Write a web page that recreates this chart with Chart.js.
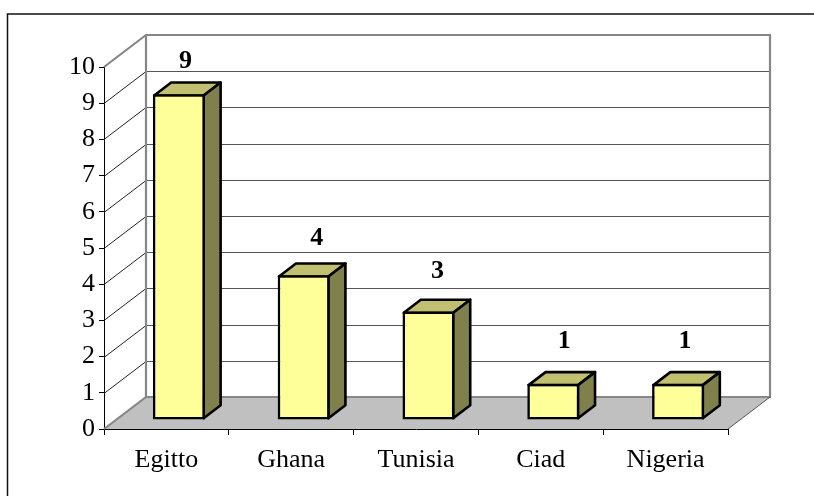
<!DOCTYPE html>
<html>
<head>
<meta charset="utf-8">
<style>
html,body{margin:0;padding:0;background:#fff;overflow:hidden}
#wrap{position:absolute;left:0;top:0;width:814px;height:496px}
</style>
<script src="https://cdn.jsdelivr.net/npm/chart.js@4"></script>
</head>
<body>
<div id="wrap"><canvas id="c" width="814" height="496"></canvas></div>
<script>
const categories = ["Egitto", "Ghana", "Tunisia", "Ciad", "Nigeria"];
const seriesValues = [9, 4, 3, 1, 1];
const axisMin = 0, axisMax = 10, axisStep = 1;

const FONT = '"Liberation Serif","Times New Roman",serif';
const wallDX = 42, wallDY = -32;   // depth of the floor / side wall
const barShiftX = 12.5, barShiftY = -9; // bars stand inside the floor
const barDX = 17, barDY = -13;     // depth of every bar
const barLine = 2.6;
const labelNudge = [[6.5, 26], [13, 30], [9, 33], [11, 35.5], [7, 35.5]]; // label offset from the bar's front-top, as placed by the original

const scene3d = {
  id: 'scene3d',
  beforeDatasetsDraw(chart) {
    const {ctx, scales: {x, y}} = chart;
    const L = x.left, R = x.right, B = y.getPixelForValue(axisMin), T = y.getPixelForValue(axisMax);
    ctx.save();
    // outer frame
    ctx.strokeStyle = '#111'; ctx.lineWidth = 1.5;
    ctx.beginPath(); ctx.moveTo(7.5, 496); ctx.lineTo(7.5, 14); ctx.lineTo(814, 14); ctx.stroke();
    // floor
    ctx.fillStyle = '#c0c0c0';
    ctx.beginPath(); ctx.moveTo(L, B); ctx.lineTo(L + wallDX, B + wallDY); ctx.lineTo(R + wallDX, B + wallDY); ctx.lineTo(R, B); ctx.closePath(); ctx.fill();
    // gridlines
    ctx.lineWidth = 1;
    for (let v = axisMin + axisStep; v < axisMax; v += axisStep) {
      const p = Math.round(y.getPixelForValue(v)) + 0.5;
      ctx.strokeStyle = '#222';
      ctx.beginPath(); ctx.moveTo(L, p); ctx.lineTo(L + wallDX, p + wallDY); ctx.stroke();
      ctx.strokeStyle = '#555';
      ctx.beginPath(); ctx.moveTo(L + wallDX, p + wallDY); ctx.lineTo(R + wallDX, p + wallDY); ctx.stroke();
    }
    // wall frame
    ctx.strokeStyle = '#868686'; ctx.lineWidth = 2.2;
    ctx.beginPath();
    ctx.moveTo(L, T); ctx.lineTo(L + wallDX, T + wallDY); ctx.lineTo(R + wallDX, T + wallDY);
    ctx.lineTo(R + wallDX, B + wallDY); ctx.lineTo(L + wallDX, B + wallDY); ctx.lineTo(L, B);
    ctx.moveTo(L + wallDX, T + wallDY); ctx.lineTo(L + wallDX, B + wallDY);
    ctx.stroke();
    ctx.lineWidth = 1; ctx.strokeStyle = '#555';
    ctx.beginPath(); ctx.moveTo(R, B); ctx.lineTo(R + wallDX, B + wallDY); ctx.stroke();
    ctx.restore();
  },
  beforeDatasetDraw(chart, args) {
    const {ctx} = chart;
    ctx.save();
    ctx.translate(barShiftX, barShiftY);
    ctx.lineWidth = barLine; ctx.strokeStyle = '#000'; ctx.lineJoin = 'round';
    const i = barLine / 2;
    args.meta.data.forEach(el => {
      const {x, y, base, width} = el.getProps(['x', 'y', 'base', 'width'], true);
      const l = x - width / 2, r = x + width / 2;
      // top face
      ctx.fillStyle = '#c0c070';
      ctx.beginPath(); ctx.moveTo(l + i, y + i); ctx.lineTo(l + i + barDX, y + i + barDY); ctx.lineTo(r - i + barDX, y + i + barDY); ctx.lineTo(r - i, y + i); ctx.closePath(); ctx.fill(); ctx.stroke();
      // side face
      ctx.fillStyle = '#80804d';
      ctx.beginPath(); ctx.moveTo(r - i, y + i); ctx.lineTo(r - i + barDX, y + i + barDY); ctx.lineTo(r - i + barDX, base - i + barDY); ctx.lineTo(r - i, base - i); ctx.closePath(); ctx.fill(); ctx.stroke();
    });
  },
  afterDatasetDraw(chart) {
    chart.ctx.restore();
  },
  afterDatasetsDraw(chart) {
    const {ctx} = chart;
    const meta = chart.getDatasetMeta(0);
    ctx.save();
    ctx.fillStyle = '#000';
    ctx.font = 'bold 26px ' + FONT;
    ctx.textAlign = 'center'; ctx.textBaseline = 'alphabetic';
    meta.data.forEach((el, i) => {
      const {x, y} = el.getProps(['x', 'y'], true);
      ctx.fillText(String(seriesValues[i]), x + barShiftX + labelNudge[i][0], y + barShiftY - labelNudge[i][1]);
    });
    ctx.restore();
  }
};

new Chart(document.getElementById('c'), {
  type: 'bar',
  data: {
    labels: categories,
    datasets: [{
      data: seriesValues,
      backgroundColor: '#ffff99',
      borderColor: '#000',
      borderWidth: barLine,
      borderSkipped: false,
      categoryPercentage: 1,
      barPercentage: 0.417,
      clip: false
    }]
  },
  options: {
    responsive: false,
    animation: false,
    layout: {padding: {top: 67, right: 86, left: 0, bottom: 0}},
    plugins: {legend: {display: false}, tooltip: {enabled: false}},
    scales: {
      x: {
        afterFit(s) { s.height = 67; },
        grid: {drawOnChartArea: false, color: '#000', tickLength: 6, tickColor: '#000'},
        border: {color: '#000'},
        ticks: {color: '#000', font: {family: FONT, size: 26}, padding: 10, maxRotation: 0}
      },
      y: {
        min: axisMin, max: axisMax,
        afterFit(s) { s.width = 104; },
        grid: {drawOnChartArea: false, color: '#000', tickLength: 5, tickColor: '#000'},
        border: {color: '#000'},
        ticks: {color: '#000', font: {family: FONT, size: 26}, stepSize: axisStep, padding: 4}
      }
    }
  },
  plugins: [scene3d]
});
</script>
</body>
</html>
